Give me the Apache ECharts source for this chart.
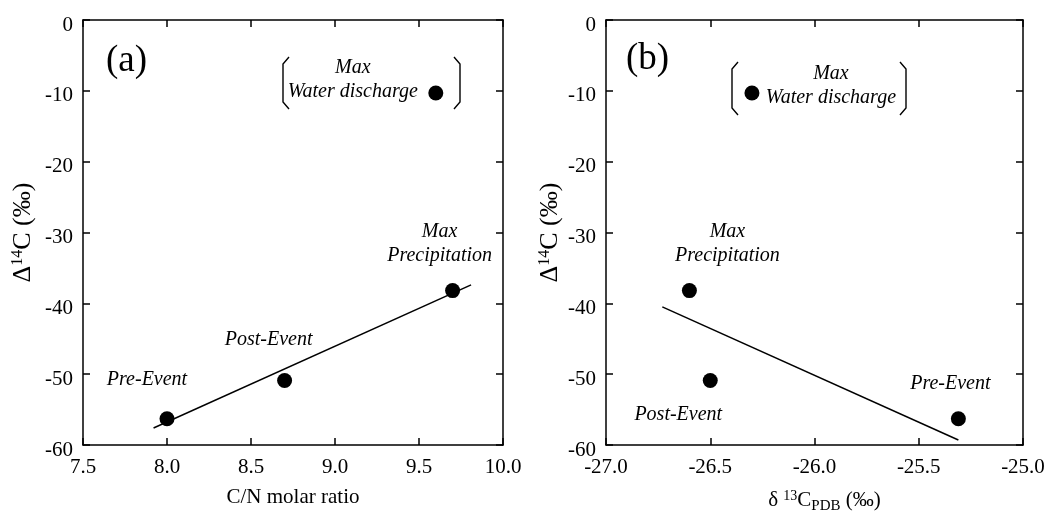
<!DOCTYPE html>
<html>
<head>
<meta charset="utf-8">
<script src="https://cdn.jsdelivr.net/npm/echarts@6/dist/echarts.min.js"></script>
<style>
  html, body { margin: 0; padding: 0; background: #fff; }
  #chart { width: 1064px; height: 512px; }
</style>
</head>
<body>
<div id="chart"></div>
<script>
// samples
const sampleNames = ['Pre-Event', 'Post-Event', 'Max\nPrecipitation', 'Max\nWater discharge'];
const cnRatio = [8.0, 8.7, 9.7, 9.6];
const delta13C = [-25.31, -26.5, -26.6, -26.3];
const delta14C = [-56.3, -50.9, -38.2, -10.3];
// regression lines (end points)
const fitA = [[7.92, -57.6], [9.81, -37.4]];
const fitB = [[-26.73, -40.5], [-25.31, -59.3]];
// ticks
const yTicks = { min: -60, max: 0, interval: 10 };
const xTicksA = { min: 7.5, max: 10, interval: 0.5 };
const xTicksB = { min: -27, max: -25, interval: 0.5 };

const FONT = 'Liberation Serif';
// label placement relative to each dot (px)
const offsetsA = [[-20, -39], [-16, -41], [-13, -47], [-83, -13]];
const offsetsB = [[-8, -35], [-32, 34], [38, -47], [79, -7]];

function points(xs, offsets) {
  return xs.map((x, i) => ({
    value: [x, delta14C[i]],
    label: { formatter: sampleNames[i], offset: offsets[i] }
  }));
}

const axisLineStyle = { show: true, onZero: false, lineStyle: { color: '#000', width: 1.5 } };
const tickStyle = { inside: true, length: 7, lineStyle: { color: '#000', width: 1.5 } };

function xAxes(gi, t, name, namePad) {
  const base = {
    gridIndex: gi, type: 'value', min: t.min, max: t.max, interval: t.interval,
    splitLine: { show: false }, axisLine: axisLineStyle, axisTick: tickStyle
  };
  return [
    Object.assign({}, base, {
      position: 'bottom', name: name, nameLocation: 'middle', nameGap: 42,
      nameTextStyle: { fontFamily: FONT, fontSize: 21, color: '#000', padding: namePad, rich: {
        sup: { fontFamily: FONT, fontSize: 14, color: '#000', padding: [0, 0, 9, 0] },
        sub: { fontFamily: FONT, fontSize: 15, color: '#000', padding: [12, 0, 0, 0] }
      } },
      axisLabel: { fontFamily: FONT, fontSize: 21, color: '#000', margin: 12,
        formatter: v => v.toFixed(1) }
    }),
    Object.assign({}, base, { position: 'top', axisLabel: { show: false } })
  ];
}

function yAxes(gi, gap) {
  const base = {
    gridIndex: gi, type: 'value', min: yTicks.min, max: yTicks.max, interval: yTicks.interval,
    splitLine: { show: false }, axisLine: axisLineStyle, axisTick: tickStyle
  };
  return [
    Object.assign({}, base, {
      position: 'left',
      name: 'Δ{sup|14}C (‰)', nameLocation: 'middle', nameRotate: 90, nameGap: gap,
      nameTextStyle: { fontFamily: FONT, fontSize: 26, color: '#000', rich: {
        sup: { fontFamily: FONT, fontSize: 16, color: '#000', padding: [0, 0, 11, 0] }
      } },
      // labels sit a little below their ticks in the original
      axisLabel: { fontFamily: FONT, fontSize: 21, color: '#000', margin: 10,
        verticalAlign: 'top', lineHeight: 10 }
    }),
    Object.assign({}, base, { position: 'right', axisLabel: { show: false } })
  ];
}

const labelStyle = {
  show: true, position: 'inside', color: '#000',
  fontFamily: FONT, fontStyle: 'italic', fontSize: 20, lineHeight: 24, align: 'center'
};

function bracket(x, y1, y2, dir) {
  const f = 6 * dir;
  return {
    type: 'polyline',
    shape: { points: [[x + f, y1], [x, y1 + 7], [x, y2 - 7], [x + f, y2]] },
    style: { stroke: '#000', lineWidth: 1.4, fill: null }
  };
}

const option = {
  animation: false,
  backgroundColor: '#fff',
  grid: [
    { left: 83, top: 20, width: 420, height: 425, outerBoundsMode: 'none' },
    { left: 606, top: 20, width: 417, height: 425, outerBoundsMode: 'none' }
  ],
  xAxis: [].concat(
    xAxes(0, xTicksA, 'C/N molar ratio', 0),
    xAxes(1, xTicksB, 'δ {sup|13}C{sub|PDB} (‰)', [0, 0, 0, 20])
  ),
  yAxis: [].concat(yAxes(0, 46), yAxes(1, 42)),
  series: [
    { type: 'scatter', xAxisIndex: 0, yAxisIndex: 0, symbolSize: 15,
      itemStyle: { color: '#000', opacity: 1 }, label: labelStyle,
      data: points(cnRatio, offsetsA) },
    { type: 'line', xAxisIndex: 0, yAxisIndex: 0, showSymbol: false, silent: true,
      lineStyle: { color: '#000', width: 1.5 }, data: fitA },
    { type: 'scatter', xAxisIndex: 2, yAxisIndex: 2, symbolSize: 15,
      itemStyle: { color: '#000', opacity: 1 }, label: labelStyle,
      data: points(delta13C, offsetsB) },
    { type: 'line', xAxisIndex: 2, yAxisIndex: 2, showSymbol: false, silent: true,
      lineStyle: { color: '#000', width: 1.5 }, data: fitB }
  ],
  graphic: [
    { type: 'text', left: 106, top: 43, style: { text: '(a)', fontFamily: FONT, fontSize: 37, fill: '#000' } },
    { type: 'text', left: 626, top: 41, style: { text: '(b)', fontFamily: FONT, fontSize: 37, fill: '#000' } },
    bracket(283, 57, 109, 1),
    bracket(460, 57, 109, -1),
    bracket(732, 62, 115, 1),
    bracket(906, 62, 115, -1)
  ]
};

const chart = echarts.init(document.getElementById('chart'));
chart.setOption(option);
</script>
</body>
</html>
